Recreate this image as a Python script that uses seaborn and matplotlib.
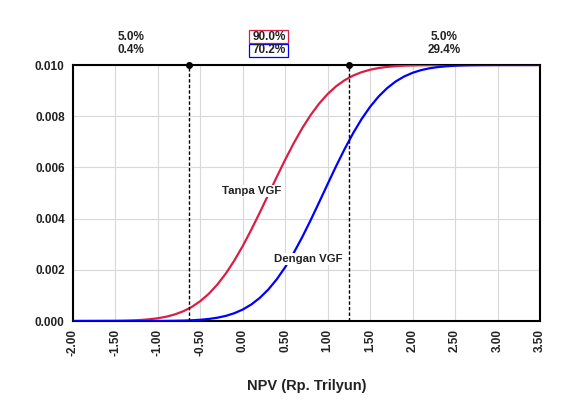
import numpy as np
import pandas as pd
import matplotlib
matplotlib.use("Agg")
import matplotlib.pyplot as plt
from matplotlib.patches import Rectangle
import seaborn as sns

# NPV grid (Rp. Trilyun) and cumulative values
npv = [-2.0, -1.5, -1.4, -1.3, -1.2, -1.1, -1.0, -0.9, -0.8, -0.7, -0.6,
       -0.5, -0.4, -0.3, -0.2, -0.1, 0.0, 0.1, 0.2, 0.3, 0.4, 0.5, 0.6,
       0.7, 0.8, 0.9, 1.0, 1.1, 1.2, 1.3, 1.4, 1.5, 1.6, 1.7, 1.8, 1.9,
       2.0, 2.1, 2.2, 2.3, 2.4, 2.5, 2.6, 2.7, 2.8, 2.9, 3.0, 3.5]

tanpa_vgf = [0.0, 0.0000075, 0.0000135, 0.000024, 0.000040, 0.000067,
             0.000108, 0.000169, 0.000258, 0.000382, 0.000552, 0.000777,
             0.001064, 0.001423, 0.001854, 0.002360, 0.002933, 0.003564,
             0.004235, 0.004930, 0.005628, 0.006306, 0.006946, 0.007531,
             0.008051, 0.008497, 0.008870, 0.009171, 0.009408, 0.009588,
             0.009721, 0.009816, 0.009882, 0.009926, 0.009955, 0.009974,
             0.009985, 0.009992, 0.009995, 0.009998, 0.009999, 0.010,
             0.010, 0.010, 0.010, 0.010, 0.010, 0.010]

dengan_vgf = [0.0, 0.0, 0.0, 0.0, 0.0, 0.0000005, 0.000002, 0.000005,
              0.000009, 0.000016, 0.000028, 0.000048, 0.000080, 0.000128,
              0.000200, 0.000304, 0.000449, 0.000645, 0.000903, 0.001228,
              0.001630, 0.002107, 0.002660, 0.003278, 0.003944, 0.004645,
              0.005355, 0.006056, 0.006722, 0.007340, 0.007893, 0.008370,
              0.008772, 0.009097, 0.009355, 0.009551, 0.009696, 0.009800,
              0.009872, 0.009920, 0.009952, 0.009972, 0.009984, 0.009991,
              0.009995, 0.009997, 0.009999, 0.010]

cut_lo, cut_hi = -0.634, 1.25
top_left = ["5.0%", "0.4%"]
top_mid = ["90.0%", "70.2%"]
top_right = ["5.0%", "29.4%"]

red = "#DC1E46"
blue = "#0000FF"

sns.set_style("whitegrid")
plt.rcParams["font.family"] = ["Liberation Sans", "DejaVu Sans"]
plt.rcParams["font.weight"] = "bold"

df = pd.DataFrame({"NPV": npv * 2,
                   "Prob": tanpa_vgf + dengan_vgf,
                   "Seri": ["Tanpa VGF"] * len(npv) + ["Dengan VGF"] * len(npv)})

fig = plt.figure(figsize=(5.72, 4.05), dpi=100)
ax = fig.add_axes([0.1276, 0.2074, 0.8164, 0.6321])

sns.lineplot(data=df, x="NPV", y="Prob", hue="Seri",
             palette={"Tanpa VGF": red, "Dengan VGF": blue},
             linewidth=1.6, legend=False, ax=ax, zorder=3)

ax.set_xlim(-2.0, 3.5)
ax.set_ylim(0.0, 0.010)
ax.set_xticks(np.arange(-2.0, 3.51, 0.5))
ax.set_yticks(np.arange(0.0, 0.0101, 0.002))
ax.set_xticklabels(["%.2f" % v for v in np.arange(-2.0, 3.51, 0.5)],
                   rotation=90, fontsize=8.5, fontweight="bold", color="#222222")
ax.set_yticklabels(["%.3f" % v for v in np.arange(0.0, 0.0101, 0.002)],
                   fontsize=8.5, fontweight="bold", color="#222222")
ax.tick_params(length=0, pad=6)
ax.grid(color="#d8d8d8", linewidth=0.8)
for s in ax.spines.values():
    s.set_color("black")
    s.set_linewidth(1.5)

ax.set_xlabel("NPV (Rp. Trilyun)", fontsize=10.5, fontweight="bold",
              labelpad=16, color="#222222")
ax.set_ylabel("")

for c in (cut_lo, cut_hi):
    ax.axvline(c, color="black", linestyle=(0, (2.5, 1.5)), linewidth=1.0, zorder=4)
    ax.plot([c], [0.010], "o", color="black", markersize=4, zorder=5, clip_on=False)

ax.text(0.108, 0.00508, "Tanpa VGF", fontsize=8.2, fontweight="bold",
        ha="center", va="center", zorder=6, color="#222222",
        bbox=dict(facecolor="white", edgecolor="none", pad=1.0))
ax.text(0.768, 0.00242, "Dengan VGF", fontsize=8.2, fontweight="bold",
        ha="center", va="center", zorder=6, color="#222222",
        bbox=dict(facecolor="white", edgecolor="none", pad=1.0))

trans = ax.get_xaxis_transform()
row_y = [1.110, 1.057]
box_w, box_h = 0.0835, 0.0508
for xc, labs, boxed in [((-2.0 + cut_lo) / 2, top_left, False),
                        ((cut_lo + cut_hi) / 2, top_mid, True),
                        ((cut_hi + 3.5) / 2, top_right, False)]:
    for yy, lab, col in zip(row_y, labs, [red, blue]):
        ax.text(xc, yy, lab, transform=trans, fontsize=8.5,
                fontweight="bold", ha="center", va="center", color="#222222")
        if boxed:
            xa = (xc + 2.0) / 5.5
            ax.add_patch(Rectangle((xa - box_w / 2, yy - box_h / 2), box_w, box_h,
                                   transform=ax.transAxes, fill=False,
                                   edgecolor=col, linewidth=0.9, clip_on=False))

fig.savefig("out.png", dpi=100)
